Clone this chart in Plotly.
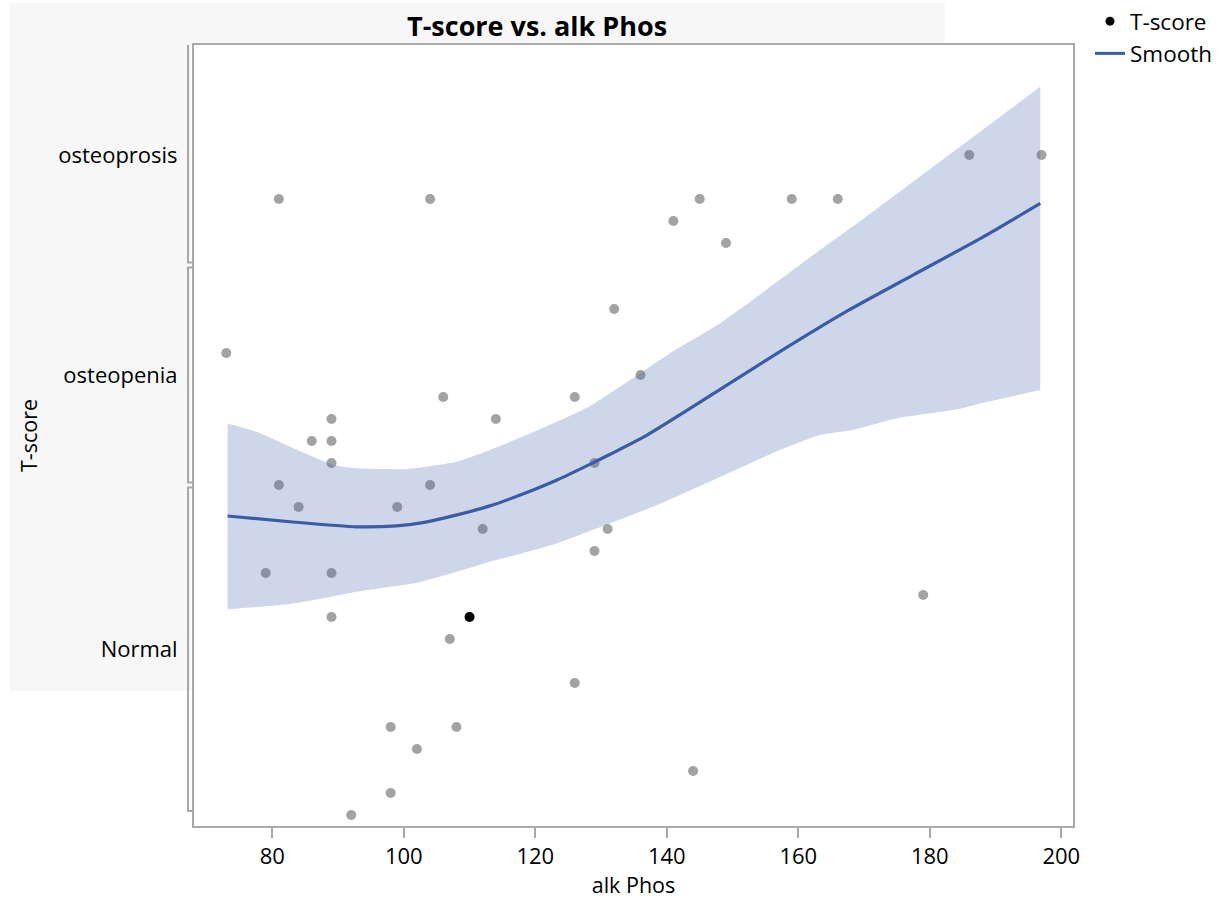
import plotly.graph_objects as go

# ---------------- data ----------------
categories = ["Normal", "osteopenia", "osteoprosis"]
category_center = {"Normal": 0.0, "osteopenia": 1.0, "osteoprosis": 2.0}

alk_phos = [73, 81, 104, 186, 197, 141, 145, 149, 159, 166,
            132, 136, 126, 106, 114, 89, 86, 89, 89, 129,
            81, 104, 84, 99, 112, 131, 129, 79, 89, 179,
            89, 110, 107, 126, 98, 108, 102, 144, 98, 92]
t_score = ["osteopenia", "osteoprosis", "osteoprosis", "osteoprosis", "osteoprosis",
           "osteoprosis", "osteoprosis", "osteoprosis", "osteoprosis", "osteoprosis",
           "osteopenia", "osteopenia", "osteopenia", "osteopenia", "osteopenia",
           "osteopenia", "osteopenia", "osteopenia", "osteopenia", "osteopenia",
           "osteopenia", "osteopenia", "Normal", "Normal", "Normal",
           "Normal", "Normal", "Normal", "Normal", "Normal",
           "Normal", "Normal", "Normal", "Normal", "Normal",
           "Normal", "Normal", "Normal", "Normal", "Normal"]
jitter = [0.1, -0.2, -0.2, 0.0, 0.0, -0.3, -0.2, -0.4, -0.2, -0.2,
          0.3, 0.0, -0.1, -0.1, -0.2, -0.2, -0.3, -0.3, -0.4, -0.4,
          -0.5, -0.5, 0.4, 0.4, 0.3, 0.3, 0.2, 0.1, 0.1, 0.0,
          -0.1, -0.1, -0.2, -0.4, -0.6, -0.6, -0.7, -0.8, -0.9, -1.0]
highlighted = [31]

smooth_x = [73.2, 82.7, 92.8, 98.9, 102.9, 108.1, 113.1, 118.1, 123.3, 128.3,
            131.4, 137.0, 147.1, 157.2, 167.4, 177.5, 188.2, 196.8]
smooth_y = [0.359, 0.333, 0.310, 0.314, 0.329, 0.364, 0.405, 0.459, 0.523, 0.594,
            0.640, 0.727, 0.915, 1.106, 1.290, 1.455, 1.629, 1.780]

upper_x = [73.2, 77.6, 82.7, 89.3, 92.8, 100.5, 108.1, 113.1, 118.1, 123.3,
           128.3, 140.5, 148.1, 163.3, 167.9, 196.8]
upper_y = [0.780, 0.742, 0.674, 0.591, 0.576, 0.573, 0.606, 0.659, 0.720, 0.788,
           0.858, 1.099, 1.235, 1.568, 1.667, 2.310]
lower_x = [73.2, 82.7, 87.8, 92.8, 102.0, 108.1, 113.1, 118.1, 123.3, 131.4,
           138.5, 147.1, 157.2, 163.3, 168.3, 175.0, 184.1, 187.7, 196.8]
lower_y = [-0.065, -0.041, -0.015, 0.015, 0.056, 0.106, 0.151, 0.190, 0.235, 0.326,
           0.409, 0.523, 0.659, 0.727, 0.750, 0.803, 0.844, 0.871, 0.932]

x_ticks = [80, 100, 120, 140, 160, 180, 200]

# ---------------- figure ----------------
FONT = "Open Sans"
BLUE = "#3a5ba8"
GRAY_PT = "#a3a3a3"
AXIS = "#a9a9a9"

y_pos = [category_center[c] + j for c, j in zip(t_score, jitter)]
colors = ["#000000" if i in highlighted else GRAY_PT for i in range(len(alk_phos))]

fig = go.Figure()

fig.add_trace(go.Scatter(
    x=alk_phos, y=y_pos, mode="markers",
    marker=dict(size=10, color=colors, line=dict(width=0)),
    showlegend=False, hoverinfo="x+y"))

# confidence band drawn above points (semi transparent)
fig.add_trace(go.Scatter(
    x=lower_x, y=lower_y, mode="lines",
    line=dict(width=0, color="rgba(0,0,0,0)", shape="spline", smoothing=0.5),
    showlegend=False, hoverinfo="skip"))
fig.add_trace(go.Scatter(
    x=upper_x, y=upper_y, mode="lines", fill="tonexty",
    fillcolor="rgba(58,91,168,0.25)",
    line=dict(width=0, color="rgba(0,0,0,0)", shape="spline", smoothing=0.5),
    showlegend=False, hoverinfo="skip"))

fig.add_trace(go.Scatter(
    x=smooth_x, y=smooth_y, mode="lines", name="Smooth",
    line=dict(color=BLUE, width=3.2, shape="spline", smoothing=0.6),
    showlegend=False))

# legend entries
fig.add_trace(go.Scatter(x=[None], y=[None], mode="markers", name="T-score",
                         marker=dict(size=9, color="#000000")))
fig.add_trace(go.Scatter(x=[None], y=[None], mode="lines", name="Smooth",
                         line=dict(color=BLUE, width=3)))

# background panels (title band and left label panel)
px_l, px_r, px_t, px_b = 194, 1073, 45, 826
W, H = 1230, 902
def xp(px):
    return (px - px_l) / (px_r - px_l)
def yp(py):
    return (px_b - py) / (px_b - px_t)

shapes = [
    dict(type="rect", xref="paper", yref="paper", x0=xp(10), x1=xp(945), y0=yp(45), y1=yp(3),
         fillcolor="#f7f7f7", line=dict(width=0), layer="below"),
    dict(type="rect", xref="paper", yref="paper", x0=xp(10), x1=xp(191), y0=yp(691), y1=yp(45),
         fillcolor="#f7f7f7", line=dict(width=0), layer="below"),
]
# category brackets on the y axis
bx0, bx1 = xp(188), xp(192)
brackets = [(2.5, 1.511), (1.489, 0.511), (0.489, -0.982)]
for top, bot in brackets:
    path = f"M {bx1},{top} L {bx0},{top} L {bx0},{bot} L {bx1},{bot}"
    if top >= 2.5:
        path = f"M {bx0},{top} L {bx0},{bot} L {bx1},{bot}"
    shapes.append(dict(type="path", xref="paper", yref="y", path=path,
                       line=dict(color=AXIS, width=2)))

fig.update_layout(
    width=W, height=H,
    margin=dict(l=px_l, r=W - px_r, t=px_t, b=H - px_b, autoexpand=False),
    paper_bgcolor="white", plot_bgcolor="white",
    font=dict(family=FONT, size=22, color="#000000"),
    shapes=shapes,
    showlegend=True,
    legend=dict(x=xp(1090), y=yp(0), xanchor="left", yanchor="top",
                traceorder="normal",
                font=dict(family=FONT, size=22.5), bgcolor="rgba(0,0,0,0)",
                tracegroupgap=0, itemwidth=30),
    annotations=[dict(text="<b>T-score vs. alk Phos</b>", xref="paper", yref="paper",
                      x=xp(537), y=yp(25), xanchor="center", yanchor="middle",
                      showarrow=False, font=dict(family=FONT, size=27, color="#000000"))],
)

fig.update_xaxes(
    range=[68.09, 201.78], tickvals=x_ticks, ticktext=[str(v) for v in x_ticks],
    showgrid=False, zeroline=False, showline=True, linecolor=AXIS, linewidth=2,
    mirror=True, ticks="outside", ticklen=10, tickwidth=2, tickcolor=AXIS,
    tickfont=dict(family=FONT, size=22),
    title=dict(text="alk Phos", font=dict(family=FONT, size=21.5), standoff=9),
)
fig.update_yaxes(
    range=[-1.05, 2.5], tickvals=[2.0, 1.0, -0.245],
    ticktext=["osteoprosis", "osteopenia", "Normal"],
    showgrid=False, zeroline=False, showline=True, linecolor=AXIS, linewidth=2,
    mirror=True, ticks="outside", ticklen=10, tickcolor="rgba(0,0,0,0)",
    tickfont=dict(family=FONT, size=22),
    title=dict(text="T-score", font=dict(family=FONT, size=21.5), standoff=15),
)

fig.write_html("out.html", config={"displayModeBar": False},
               post_script="document.body.style.margin='0';document.body.style.overflow='hidden';")
